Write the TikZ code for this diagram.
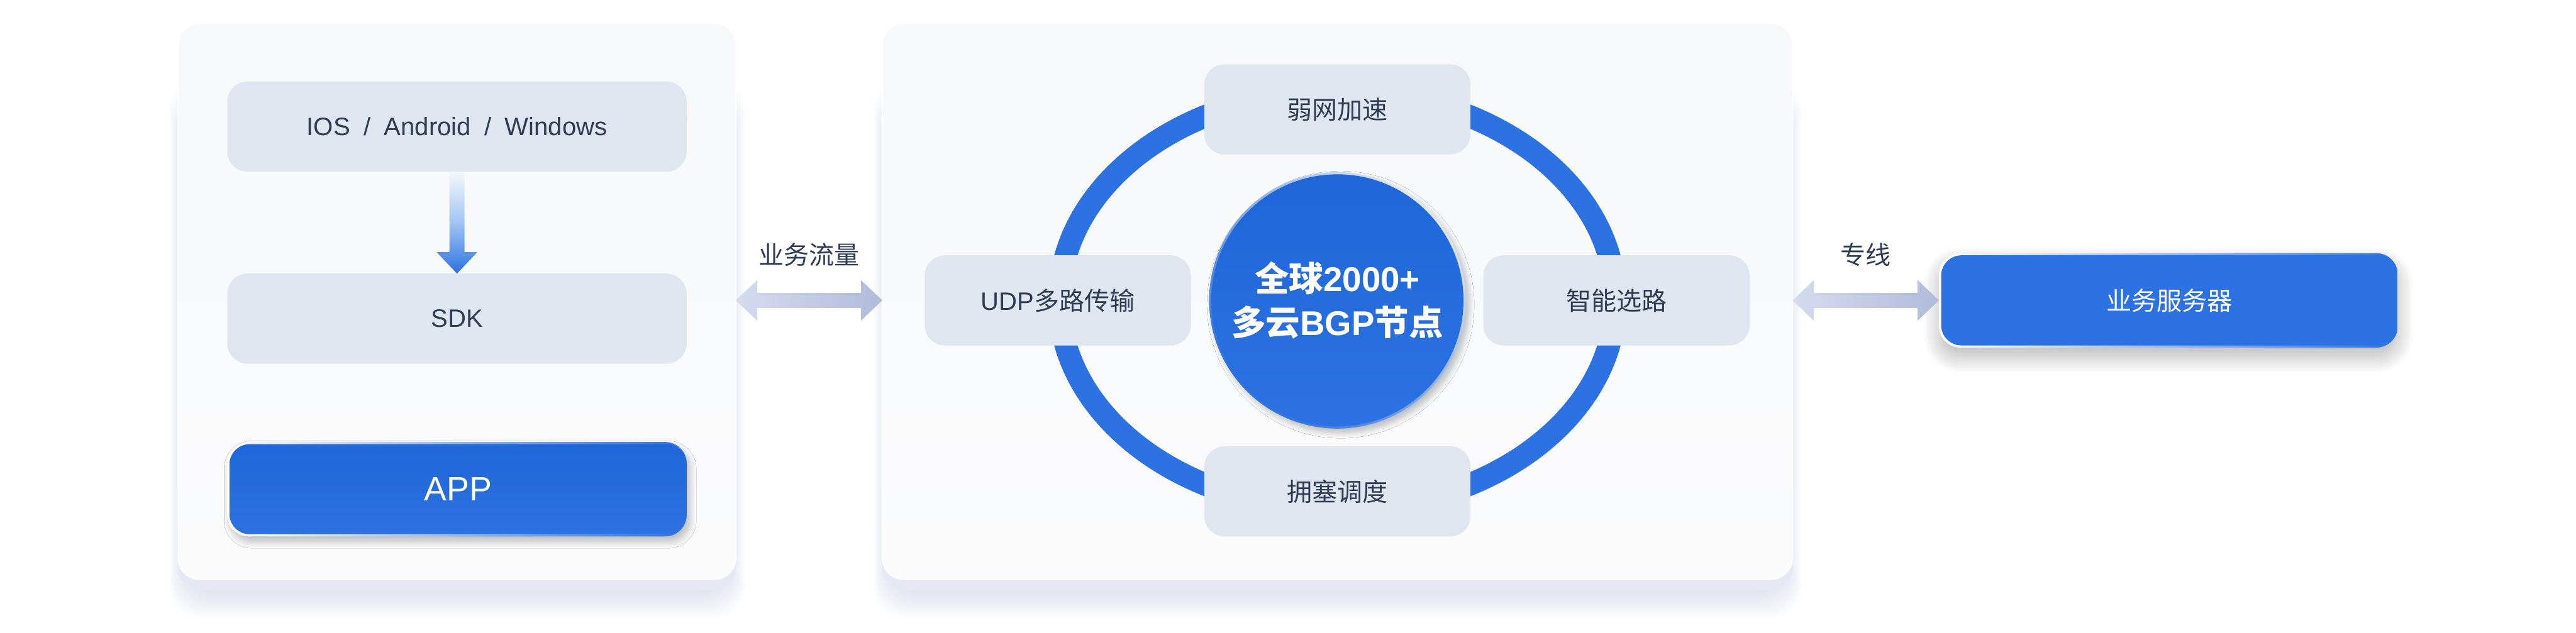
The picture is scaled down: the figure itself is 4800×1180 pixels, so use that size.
\documentclass[tikz,border=0pt]{standalone}
\usepackage{fontspec}
\setmainfont{Noto Sans CJK SC}
\newfontfamily\latinfont{Liberation Sans}
\usetikzlibrary{calc,positioning,shadows.blur}
\definecolor{inkdark}{HTML}{2E3D55}
\definecolor{softbox}{HTML}{E0E6F0}
\definecolor{bluetop}{HTML}{1F66D8}
\definecolor{bluelow}{HTML}{2C72E2}
\definecolor{bluemid}{HTML}{A0C4F4}
\definecolor{F7top}{HTML}{F6F8FA}
\definecolor{F7low}{HTML}{FBFBFC}
\definecolor{E6base}{HTML}{E6E9F3}
\definecolor{C0tint}{HTML}{C0C8E0}
\definecolor{D6arrow}{HTML}{D6DBEE}
\definecolor{B0arrow}{HTML}{B0BCDB}
\tikzset{every node/.style={outer sep=0pt,inner sep=0pt},
  panel/.style={rounded corners=40pt,minimum width=#1,minimum height=1036pt,
    top color=F7top,bottom color=F7low,draw=white,line width=2pt},
  panelbase/.style={minimum width=#1,minimum height=1036pt},
  graybox/.style={rounded corners=38pt,fill=softbox,minimum width=#1,minimum height=168pt,
    text=inkdark,font=\fontsize{47}{56}\selectfont},
  rimbox/.style={rounded corners=40pt,minimum width=856pt,minimum height=176pt,
    left color=white,right color=bluelow,
    blur shadow={shadow xshift=6pt,shadow yshift=-10pt,shadow blur radius=12pt,
      shadow opacity=25,shadow blur steps=12}},
  bluebox/.style={rounded corners=38pt,minimum width=852pt,minimum height=168pt,anchor=east,
    top color=#1,bottom color=bluelow,text=white},
  flowarrow/.style={left color=D6arrow,right color=B0arrow},
  flowlabel/.style={text=inkdark,font=\fontsize{47}{56}\selectfont}}
\newcommand{\biarrow}[2]{\shade[flowarrow] (#1) -- ++(40,38) -- ++(0,-24) -- ($(#2)+(-40,14)$)
  -- ++(0,24) -- (#2) -- ++(-40,-38) -- ++(0,24) -- ($(#1)+(40,-14)$) -- ++(0,-24) -- cycle;}
\newcommand{\panelshadow}[1]{
  \foreach \s in {2,4,...,40}
    \fill[C0tint,opacity=.03,rounded corners=60pt] ($(#1.south west)+(14-0.8*\s,-1.3*\s)$)
      rectangle ($(#1.north east)+(0.8*\s-14,-160+2*\s)$);
  \fill[E6base,rounded corners=40pt] (#1.south west) rectangle (#1.north east);}
\begin{document}
\begin{tikzpicture}[x=1pt,y=1pt]
  \useasboundingbox (0,0) rectangle (4800,1180);
  % panels
  \node[panelbase=1039pt] (clientbase) at (851.5,598) {};
  \node[panelbase=1696pt] (cloudbase) at (2492,598) {};
  \panelshadow{clientbase}
  \panelshadow{cloudbase}
  \node[panel=1039pt] (client) at (851.5,618) {};
  \node[panel=1696pt] (cloud) at (2492,618) {};
  % left column
  \node[graybox=856pt,below=108pt of client.north] (ios) {\latinfont IOS\hspace{12pt} /\hspace{12pt} Android\hspace{12pt} /\hspace{12pt} Windows};
  \node[graybox=856pt,below=190pt of ios] (sdk) {\latinfont SDK};
  \node[rimbox,below=146pt of sdk] (apprim) {};
  \node[bluebox=bluetop,font=\fontsize{63}{70}\selectfont\latinfont] (app) at (apprim.east) {APP};
  \shade[top color=F7top,bottom color=bluelow,middle color=bluemid] (ios.south) ++(-14,0) -- ++(28,0) -- ++(0,-150)
    -- ++(24,0) -- (sdk.north) -- ++(-38,40) -- ++(24,0) -- cycle;
  % ring and hub
  \coordinate (mid) at (2492,620);
  \draw[bluelow,line width=42pt] (mid) ellipse [x radius=518,y radius=390];
  \node[circle,minimum size=478pt,left color=softbox,right color=bluelow,shading angle=-45,
    blur shadow={shadow xshift=6pt,shadow yshift=-8pt,shadow blur radius=10pt,
      shadow opacity=25,shadow blur steps=10}] (hubrim) at (mid) {};
  \node[circle,minimum size=470pt,top color=bluetop,bottom color=bluelow,text=white,align=center,
    font=\fontsize{64}{82}\selectfont\bfseries] (hub) at (mid) {全球{\latinfont 2000+}\\多云{\latinfont BGP}节点};
  \node[graybox=496pt,above=33pt of hubrim] (weak) {弱网加速};
  \node[graybox=496pt,left=34pt of hubrim] (udp) {{\latinfont UDP}多路传输};
  \node[graybox=496pt,right=33pt of hubrim] (route) {智能选路};
  \node[graybox=496pt,below=33pt of hubrim] (jam) {拥塞调度};
  % server
  \node[rimbox,minimum width=855pt,
    blur shadow={shadow xshift=0pt,shadow yshift=-18pt,shadow blur radius=30pt,
      shadow opacity=15,shadow blur steps=16}] (srvrim) at (4040.5,620) {};
  \node[bluebox=bluelow,minimum width=851pt,font=\fontsize{47}{56}\selectfont] (srv) at (srvrim.east) {业务服务器};
  % links
  \biarrow{$(client.east)+(0,2)$}{$(cloud.west)+(0,2)$}
  \biarrow{$(cloud.east)+(0,2)$}{srvrim.west}
  \path ($(client.east)+(0,2)$) -- ($(cloud.west)+(0,2)$) node[flowlabel,midway,yshift=85pt] (flowtxt) {业务流量};
  \path ($(cloud.east)+(0,2)$) -- (srvrim.west) node[flowlabel,midway,yshift=85pt] (linetxt) {专线};
\end{tikzpicture}
\end{document}
